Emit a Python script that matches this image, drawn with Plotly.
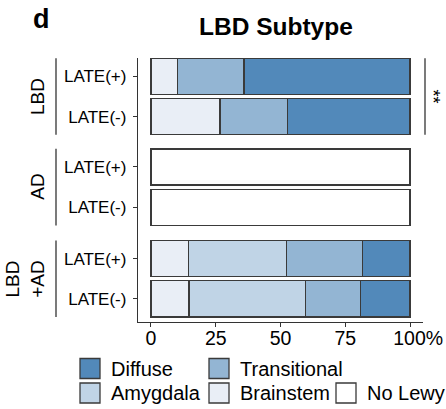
import plotly.graph_objects as go
from plotly.subplots import make_subplots

# ---------------- data ----------------
groups = ["LBD", "AD", "LBD<br>+AD"]
conditions = ["LATE(+)", "LATE(-)"]
# stacking order, left to right
stages = ["No Lewy", "Brainstem", "Amygdala", "Transitional", "Diffuse"]
legend_rows = [["Diffuse", "Transitional"], ["Amygdala", "Brainstem", "No Lewy"]]

# percentages: [LATE(+), LATE(-)]
lbd_no_lewy = [0, 0]
lbd_brainstem = [10.3, 26.7]
lbd_amygdala = [0, 0]
lbd_transitional = [25.6, 26.1]
lbd_diffuse = [64.1, 47.2]

ad_no_lewy = [100, 100]
ad_brainstem = [0, 0]
ad_amygdala = [0, 0]
ad_transitional = [0, 0]
ad_diffuse = [0, 0]

lbdad_no_lewy = [0, 0]
lbdad_brainstem = [14.4, 14.7]
lbdad_amygdala = [38.0, 44.9]
lbdad_transitional = [29.3, 21.2]
lbdad_diffuse = [18.3, 19.2]

x_ticks = [0, 25, 50, 75, 100]
x_tick_labels = ["0", "25", "50", "75", "&nbsp;&nbsp;&nbsp;100%"]
significance = "**"

facet_data = [
    [lbd_no_lewy, lbd_brainstem, lbd_amygdala, lbd_transitional, lbd_diffuse],
    [ad_no_lewy, ad_brainstem, ad_amygdala, ad_transitional, ad_diffuse],
    [lbdad_no_lewy, lbdad_brainstem, lbdad_amygdala, lbdad_transitional, lbdad_diffuse],
]

colors = {
    "Diffuse": "#5289BA",
    "Transitional": "#93B5D3",
    "Amygdala": "#C0D4E6",
    "Brainstem": "#E9EEF6",
    "No Lewy": "#FFFFFF",
}

# ---------------- layout helpers ----------------
W, H = 446, 409
ML, MR, MT, MB = 138, 23, 58, 87
PW, PH = W - ML - MR, H - MT - MB
FONT = "Liberation Sans, Arial, sans-serif"
EDGE = "#3a3a3a"
AX = "#333333"


def px_x(p):
    return (p - ML) / PW


def px_y(p):
    return (H - MB - p) / PH


# facet boundaries in pixels (top to bottom)
bounds = [58, 142, 233, 322]
ranges = [[1.628, -0.459], [1.638, -0.620], [1.576, -0.638]]

fig = make_subplots(rows=3, cols=1, shared_xaxes=True, vertical_spacing=0)

for i, series in enumerate(facet_data):
    for stage, vals in zip(stages, series):
        fig.add_trace(
            go.Bar(
                x=[v if v else None for v in vals],
                y=conditions,
                orientation="h",
                width=0.9,
                name=stage,
                showlegend=False,
                marker=dict(color=colors[stage], line=dict(color=EDGE, width=1.3)),
                hoverinfo="x+y+name",
            ),
            row=i + 1,
            col=1,
        )

fig.update_layout(
    barmode="stack",
    width=W,
    height=H,
    margin=dict(l=ML, r=MR, t=MT, b=MB, autoexpand=False),
    paper_bgcolor="white",
    plot_bgcolor="white",
    font=dict(family=FONT, color="black"),
    showlegend=False,
)

for i in range(3):
    top, bot = bounds[i], bounds[i + 1]
    yname = "yaxis" if i == 0 else f"yaxis{i + 1}"
    xname = "xaxis" if i == 0 else f"xaxis{i + 1}"
    fig.layout[yname].update(
        domain=[px_y(bot), px_y(top)],
        type="category",
        categoryorder="array",
        categoryarray=conditions,
        range=ranges[i],
        showline=True,
        linecolor=AX,
        linewidth=1.3,
        ticks="outside",
        ticklen=4,
        tickwidth=1.1,
        tickcolor=AX,
        tickfont=dict(size=17, color="black", family=FONT),
        showgrid=False,
        zeroline=False,
        ticklabelstandoff=3,
        automargin=False,
    )
    fig.layout[xname].update(
        range=[-5, 105],
        showgrid=False,
        zeroline=False,
        showline=(i == 2),
        linecolor=AX,
        linewidth=1.3,
        tickvals=x_ticks,
        ticktext=x_tick_labels,
        ticks="outside" if i == 2 else "",
        ticklen=4,
        tickwidth=1.1,
        tickcolor=AX,
        showticklabels=(i == 2),
        tickfont=dict(size=19.5, color="black", family=FONT),
        ticklabelstandoff=-6,
        automargin=False,
    )

shapes = []
annotations = []

# facet strips (group labels with bracket lines)
for i, g in enumerate(groups):
    yref = "y" if i == 0 else f"y{i + 1}"
    shapes.append(dict(type="line", xref="paper", yref=yref,
                       x0=px_x(56), x1=px_x(56), y0=-0.45, y1=1.45,
                       line=dict(color=AX, width=1.3)))
    annotations.append(dict(text=g, xref="paper", yref=yref, x=px_x(50), y=0.5,
                            xanchor="right", yanchor="middle", textangle=-90,
                            showarrow=False, font=dict(size=19, family=FONT, color="black")))

# significance bracket
shapes.append(dict(type="line", xref="paper", yref="y",
                   x0=px_x(425), x1=px_x(425), y0=-0.45, y1=1.45,
                   line=dict(color=AX, width=1.3)))
annotations.append(dict(text=significance, xref="paper", yref="y", x=px_x(445), y=0.5,
                        xanchor="right", yanchor="middle", textangle=90,
                        showarrow=False, font=dict(size=18, family=FONT, color="black")))

# title and panel letter
annotations.append(dict(text="<b>LBD Subtype</b>", xref="paper", yref="paper",
                        x=px_x(276), y=px_y(26.5), xanchor="center", yanchor="middle",
                        showarrow=False, font=dict(size=24.5, family=FONT, color="black")))
annotations.append(dict(text="<b>d</b>", xref="paper", yref="paper",
                        x=px_x(31), y=px_y(19), xanchor="left", yanchor="middle",
                        showarrow=False, font=dict(size=27, family=FONT, color="black")))

# legend (drawn below the plot)
col_x = [80, 209, 336]
row_y = [368.5, 393]
box = 20
for r, row in enumerate(legend_rows):
    for c, stage in enumerate(row):
        x0 = col_x[c]
        yc = row_y[r]
        shapes.append(dict(type="rect", xref="paper", yref="paper",
                           x0=px_x(x0), x1=px_x(x0 + box),
                           y0=px_y(yc + box / 2), y1=px_y(yc - box / 2),
                           fillcolor=colors[stage], line=dict(color=EDGE, width=1.3)))
        annotations.append(dict(text=stage, xref="paper", yref="paper",
                                x=px_x(x0 + box + 9), y=px_y(yc), xanchor="left", yanchor="middle",
                                showarrow=False, font=dict(size=20, family=FONT, color="black")))

fig.update_layout(shapes=shapes, annotations=annotations)
fig.write_html("out.html")
